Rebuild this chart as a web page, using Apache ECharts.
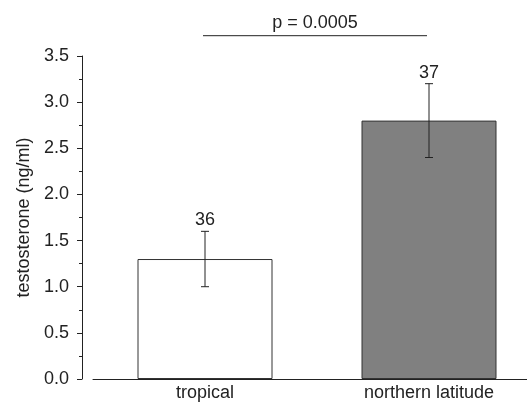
<!DOCTYPE html>
<html>
<head>
<meta charset="utf-8">
<script src="https://cdn.jsdelivr.net/npm/echarts@6/dist/echarts.min.js"></script>
<style>
  html, body { margin: 0; padding: 0; background: #fff; }
  #chart { width: 527px; height: 403px; }
</style>
</head>
<body>
<div id="chart"></div>
<script>
// data
var categories = ['tropical', 'northern latitude'];
var means = [1.3, 2.8];
var errors = [0.3, 0.4];
var counts = ['36', '37'];
var barColors = ['#ffffff', '#808080'];
var pText = 'p = 0.0005';
var pLevel = 3.72;

var myChart = echarts.init(document.getElementById('chart'));

var font = 'Liberation Sans, Arial, sans-serif';
var textColor = '#222';

var errData = [];
for (var i = 0; i < means.length; i++) {
    errData.push([i, means[i] - errors[i], means[i] + errors[i], counts[i]]);
}

var option = {
    animation: false,
    grid: { left: 93, width: 448, top: 56, bottom: 24, outerBoundsMode: 'none', containLabel: false },
    xAxis: {
        type: 'category',
        data: categories,
        axisLine: { lineStyle: { color: '#222', width: 1 } },
        axisTick: { show: false },
        axisLabel: { color: textColor, fontSize: 18, fontFamily: font, margin: 5 }
    },
    yAxis: {
        type: 'value',
        min: 0,
        max: 3.5,
        interval: 0.5,
        offset: 11,
        name: 'testosterone (ng/ml)',
        nameLocation: 'middle',
        nameGap: 40,
        nameTextStyle: { color: textColor, fontSize: 18, fontFamily: font },
        axisLine: { show: true, lineStyle: { color: '#222', width: 1 } },
        axisTick: { show: true, length: 5, lineStyle: { color: '#222' } },
        minorTick: { show: true, splitNumber: 2, length: 3, lineStyle: { color: '#222' } },
        splitLine: { show: false },
        axisLabel: {
            color: textColor, fontSize: 18, fontFamily: font, margin: 13,
            formatter: function (v) { return v.toFixed(1); }
        }
    },
    series: [
        {
            type: 'bar',
            barWidth: 135,
            z: 1,
            data: means.map(function (v, i) {
                return { value: v, itemStyle: { color: barColors[i], borderColor: '#333', borderWidth: 1 } };
            })
        },
        {
            type: 'custom',
            clip: false,
            z: 5,
            data: errData,
            renderItem: function (params, api) {
                var x = api.coord([api.value(0), 0])[0];
                var lo = api.coord([api.value(0), api.value(1)])[1];
                var hi = api.coord([api.value(0), api.value(2)])[1];
                var cap = 4;
                var st = { stroke: '#222', lineWidth: 1 };
                return {
                    type: 'group',
                    children: [
                        { type: 'line', shape: { x1: x, y1: lo, x2: x, y2: hi }, style: st },
                        { type: 'line', shape: { x1: x - cap, y1: lo, x2: x + cap, y2: lo }, style: st },
                        { type: 'line', shape: { x1: x - cap, y1: hi, x2: x + cap, y2: hi }, style: st },
                        {
                            type: 'text',
                            style: {
                                x: x, y: hi - 2, text: api.value(3),
                                fill: textColor, font: '18px ' + font,
                                align: 'center', verticalAlign: 'bottom'
                            }
                        }
                    ]
                };
            }
        },
        {
            type: 'custom',
            clip: false,
            z: 5,
            data: [[0, 1, pLevel]],
            renderItem: function (params, api) {
                var p1 = api.coord([api.value(0), api.value(2)]);
                var p2 = api.coord([api.value(1), api.value(2)]);
                return {
                    type: 'group',
                    children: [
                        { type: 'line', shape: { x1: p1[0] - 2, y1: p1[1], x2: p2[0] - 2, y2: p2[1] }, style: { stroke: '#222', lineWidth: 1 } },
                        {
                            type: 'text',
                            style: {
                                x: (p1[0] + p2[0]) / 2 - 2, y: p1[1] - 4, text: pText,
                                fill: textColor, font: '18px ' + font,
                                align: 'center', verticalAlign: 'bottom'
                            }
                        }
                    ]
                };
            }
        }
    ]
};
myChart.setOption(option);
</script>
</body>
</html>
